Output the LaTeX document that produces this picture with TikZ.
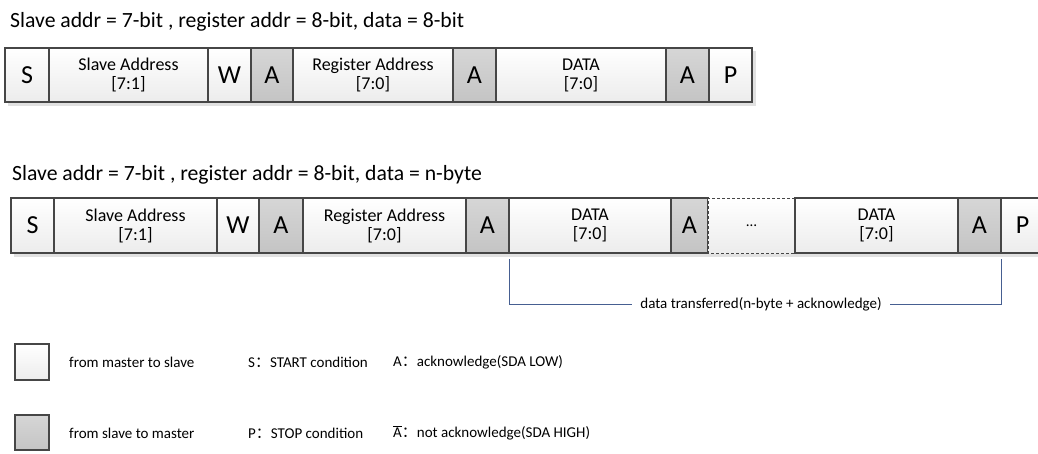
\documentclass[tikz,border=0pt]{standalone}
\usepackage{fontspec}
\setmainfont{Carlito}
\newfontfamily\cjk{Noto Sans CJK SC}
\definecolor{edge}{RGB}{70,70,70}
\definecolor{wtop}{RGB}{255,255,255}
\definecolor{wbot}{RGB}{236,236,236}
\definecolor{gtop}{RGB}{214,214,214}
\definecolor{gbot}{RGB}{196,196,196}
\definecolor{shade}{RGB}{225,225,225}
\definecolor{brk}{RGB}{70,95,145}
\tikzset{
  cell/.style={draw=edge, line width=1.1pt, inner sep=0pt, outer sep=0pt, align=center, font=\fontsize{18}{19}\selectfont},
  wcell/.style={cell, top color=wtop, bottom color=wbot},
  gcell/.style={cell, top color=gtop, bottom color=gbot},
  big/.style={font=\fontsize{26}{28}\selectfont},
  title/.style={anchor=west, inner sep=0pt, font=\fontsize{21.7}{24}\selectfont},
  legtext/.style={anchor=west, inner sep=0pt, font=\fontsize{15}{18}\selectfont},
  shadowbox/.style={fill=shade, draw=none}
}
\begin{document}
\begin{tikzpicture}[x=1pt, y=-1pt]
\path[use as bounding box, clip] (0,0) rectangle (1038,453);
\fill[white] (0,0) rectangle (1038,453);

% ---------- row 1 ----------
\node[title] (t1) at (10,22) {Slave addr = 7-bit , register addr = 8-bit, data = 8-bit};
\fill[shadowbox] (8,101) rectangle (755,106);
\fill[shadowbox] (751,51) rectangle (756,106);
\node[wcell, big, minimum width=44pt, minimum height=54pt] (r1s) at (27,75) {S};
\node[wcell, minimum width=159pt, minimum height=54pt] (r1sa) at (128.5,75) {Slave Address\\{}[7:1]};
\node[wcell, big, minimum width=43pt, minimum height=54pt] (r1w) at (229.5,75) {W};
\node[gcell, big, minimum width=42pt, minimum height=54pt] (r1a1) at (272,75) {A};
\node[wcell, minimum width=160pt, minimum height=54pt] (r1ra) at (373,75) {Register Address\\{}[7:0]};
\node[gcell, big, minimum width=43pt, minimum height=54pt] (r1a2) at (474.5,75) {A};
\node[wcell, minimum width=170pt, minimum height=54pt] (r1d) at (581,75) {DATA\\{}[7:0]};
\node[gcell, big, minimum width=43pt, minimum height=54pt] (r1a3) at (687.5,75) {A};
\node[wcell, big, minimum width=43pt, minimum height=54pt] (r1p) at (730.5,75) {P};

% ---------- row 2 ----------
\node[title] (t2) at (12,175) {Slave addr = 7-bit , register addr = 8-bit, data = n-byte};
\fill[shadowbox] (14,252) rectangle (1038,257);
\node[wcell, big, minimum width=43pt, minimum height=55pt] (r2s) at (32.5,225.5) {S};
\node[wcell, minimum width=163pt, minimum height=55pt] (r2sa) at (135.5,225.5) {Slave Address\\{}[7:1]};
\node[wcell, big, minimum width=42pt, minimum height=55pt] (r2w) at (238,225.5) {W};
\node[gcell, big, minimum width=44pt, minimum height=55pt] (r2a1) at (281,225.5) {A};
\node[wcell, minimum width=163pt, minimum height=55pt] (r2ra) at (384.5,225.5) {Register Address\\{}[7:0]};
\node[gcell, big, minimum width=43pt, minimum height=55pt] (r2a2) at (487.5,225.5) {A};
\node[wcell, minimum width=162pt, minimum height=55pt] (r2d1) at (590,225.5) {DATA\\{}[7:0]};
\node[gcell, big, minimum width=37pt, minimum height=55pt] (r2a3) at (689.5,225.5) {A};
\node[wcell, draw=none, minimum width=87pt, minimum height=55pt] (r2dots) at (751.5,225.5) {\fontsize{15}{18}\selectfont\dots};
\draw[edge, line width=0.9pt, dashed, dash pattern=on 3pt off 2pt] (r2dots.north east) -- (r2dots.north west) -- (r2dots.south west) -- (r2dots.south east);
\node[wcell, minimum width=163pt, minimum height=55pt] (r2d2) at (876.5,225.5) {DATA\\{}[7:0]};
\node[gcell, big, minimum width=43pt, minimum height=55pt] (r2a4) at (979.5,225.5) {A};
\node[wcell, big, minimum width=43pt, minimum height=55pt] (r2p) at (1022.5,225.5) {P};

% ---------- bracket ----------
\node[legtext, anchor=center, inner xsep=8pt] (lbl) at (761,304) {data transferred(n-byte + acknowledge)};
\coordinate (bl) at ([yshift=-6pt]r2d1.south west);
\coordinate (br) at ([yshift=-6pt]r2a4.south east);
\draw[brk, line width=0.9pt] (bl) |- (lbl.west);
\draw[brk, line width=0.9pt] (br) |- (lbl.east);

% ---------- legend ----------
\node[wcell, minimum width=34pt, minimum height=36pt] (lgw) at (32,362) {};
\node[gcell, minimum width=34pt, minimum height=35pt] (lgg) at (32,432.5) {};
\node[legtext] (lgwt) at (69,362) {from master to slave};
\node[legtext] (lggt) at (69,433) {from slave to master};
\node[legtext] (ls) at (248,362) {S{\cjk ：}START condition};
\node[legtext] (lp) at (248,433) {P{\cjk ：}STOP condition};
\node[legtext] (la) at (393,362) {A{\cjk ：}acknowledge(SDA LOW)};
\node[legtext] (lna) at (393,433) {$\overline{\mbox{A}}${\cjk ：}not acknowledge(SDA HIGH)};
\end{tikzpicture}
\end{document}
